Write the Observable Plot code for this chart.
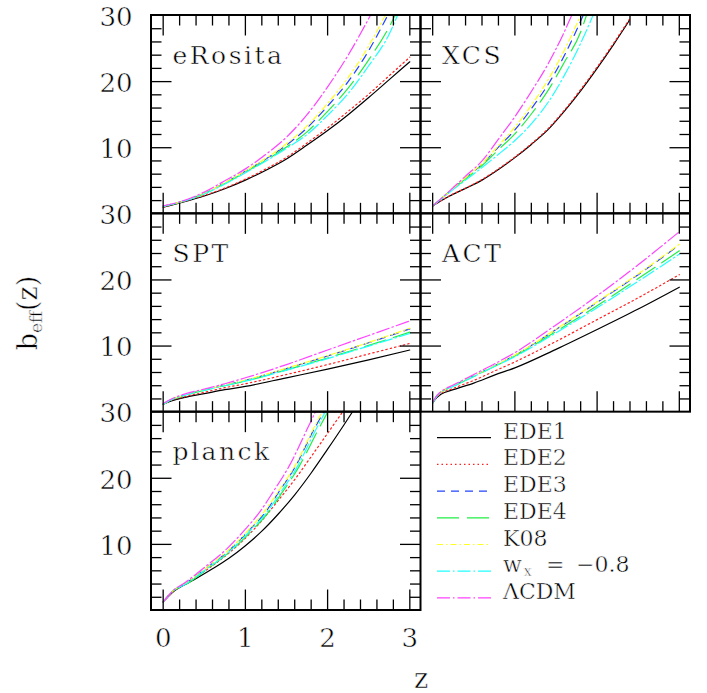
<!DOCTYPE html>
<html><head><meta charset="utf-8">
<script src="https://cdn.jsdelivr.net/npm/d3@7"></script>
<script src="https://cdn.jsdelivr.net/npm/@observablehq/plot@0.6"></script>
<style>
body{margin:0;background:#fff}
#chart{position:relative;width:707px;height:693px}
svg{display:block}
svg text{stroke:#fff;stroke-width:0.5px}
g[aria-description="panel-label"] text{letter-spacing:2.5px}
</style>
</head><body><div id="chart"></div>
<script>
// ---- series and panels ----
const series = ["EDE1","EDE2","EDE3","EDE4","K08","wx","LCDM"];
const seriesColors = ["#000000","#ff2020","#2244ff","#22ee44","#ffff22","#22ffff","#ff44ff"];
const seriesDash = [null,"1.5,3","8,6","22,8","6,3,1.5,3","13,3,1.5,3","13,3,1.5,3"];
const panelNames = ["eRosita","XCS","SPT","ACT","planck"];
const panelCol = [0,1,0,1,0];
const panelRow = [0,0,1,1,2];

// ---- tick values and labels ----
const xTicks = [0,0.2,0.4,0.6,0.8,1,1.2,1.4,1.6,1.8,2,2.2,2.4,2.6,2.8,3];
const xMajor = [0,1,2,3];
const yTicks = [2,4,6,8,10,12,14,16,18,20,22,24,26,28];
const yMajor = [10,20];
const xTickLabels = [0,1,2,3];
const yTickLabels = [10,20,30];

// ---- b_eff(z): [z, b] ----
const eRosita = {
  EDE1: [[0,1.0],[0.25,1.8],[0.5,2.7],[0.75,3.8],[1,5.1],[1.25,6.6],[1.5,8.3],[1.75,10.4],[2,12.6],[2.25,15.0],[2.5,17.6],[2.75,20.3],[3,23.0]],
  EDE2: [[0,1.0],[0.25,1.85],[0.5,2.8],[0.75,3.9],[1,5.25],[1.25,6.8],[1.5,8.55],[1.75,10.7],[2,13.0],[2.25,15.5],[2.5,18.1],[2.75,20.9],[3,23.7]],
  EDE3: [[0,1.15],[0.25,1.95],[0.5,3.1],[0.75,4.7],[1,6.45],[1.25,8.3],[1.5,10.4],[1.75,13.0],[2,16.3],[2.25,20.0],[2.5,24.7],[2.73,30]],
  EDE4: [[0,1.1],[0.25,1.9],[0.5,3.05],[0.75,4.6],[1,6.3],[1.25,8.1],[1.5,10.1],[1.75,12.4],[2,15.5],[2.25,19.0],[2.5,23.3],[2.75,28.3],[2.82,30]],
  K08:  [[0,1.15],[0.25,1.95],[0.5,3.1],[0.75,4.7],[1,6.5],[1.25,8.4],[1.5,10.6],[1.75,13.3],[2,16.7],[2.25,20.6],[2.5,25.4],[2.7,30]],
  wx:   [[0,1.1],[0.25,1.9],[0.5,3.0],[0.75,4.5],[1,6.2],[1.25,8.0],[1.5,9.9],[1.75,12.0],[2,14.9],[2.25,18.2],[2.5,22.4],[2.75,27.2],[2.85,30]],
  LCDM: [[0,1.2],[0.25,2.0],[0.5,3.3],[0.75,5.0],[1,6.8],[1.25,9.0],[1.5,11.6],[1.75,15.0],[2,19.2],[2.25,24.0],[2.52,30]]
};
const XCS = {
  EDE1: [[0,1.2],[0.2,2.65],[0.4,3.85],[0.6,5.1],[0.8,6.7],[1,8.5],[1.2,10.5],[1.4,12.7],[1.6,15.5],[1.8,18.6],[2,22.0],[2.2,25.6],[2.39,29.2]],
  EDE2: [[0,1.2],[0.2,2.7],[0.4,3.9],[0.6,5.2],[0.8,6.8],[1,8.6],[1.2,10.6],[1.4,12.85],[1.6,15.65],[1.8,18.8],[2,22.2],[2.2,25.8],[2.39,29.4]],
  EDE3: [[0,1.2],[0.2,3.3],[0.4,5.4],[0.6,7.5],[0.8,10.1],[1,12.7],[1.2,15.9],[1.4,19.5],[1.6,23.9],[1.83,30]],
  EDE4: [[0,1.2],[0.2,3.3],[0.4,5.3],[0.6,7.3],[0.8,9.7],[1,12.1],[1.2,15.1],[1.4,18.6],[1.6,22.9],[1.8,27.5],[1.87,30]],
  K08:  [[0,1.2],[0.2,3.3],[0.4,5.45],[0.6,7.6],[0.8,10.3],[1,13.1],[1.2,16.4],[1.4,20.2],[1.6,24.7],[1.8,30]],
  wx:   [[0,1.2],[0.2,3.2],[0.4,5.1],[0.6,7.0],[0.8,9.0],[1,11.1],[1.2,13.6],[1.4,16.8],[1.6,20.9],[1.8,25.8],[1.95,30]],
  LCDM: [[0,1.2],[0.2,3.4],[0.4,5.7],[0.6,8.0],[0.8,11.3],[1,14.7],[1.2,18.5],[1.4,22.6],[1.6,27.5],[1.69,30]]
};
const SPT = {
  EDE1: [[0,1.2],[0.1,1.7],[0.25,2.2],[0.5,2.8],[0.75,3.4],[1,3.9],[1.5,5.2],[2,6.5],[2.5,7.9],[3,9.4]],
  EDE2: [[0,1.2],[0.1,1.8],[0.25,2.3],[0.5,3.0],[0.75,3.7],[1,4.3],[1.5,5.7],[2,7.2],[2.5,8.8],[3,10.4]],
  EDE3: [[0,1.2],[0.1,1.9],[0.25,2.5],[0.5,3.35],[0.75,4.1],[1,4.8],[1.5,6.6],[2,8.5],[2.5,10.5],[3,12.6]],
  EDE4: [[0,1.2],[0.1,1.9],[0.25,2.5],[0.5,3.3],[0.75,4.0],[1,4.7],[1.5,6.4],[2,8.2],[2.5,10.1],[3,12.1]],
  K08:  [[0,1.2],[0.1,1.9],[0.25,2.5],[0.5,3.35],[0.75,4.1],[1,4.85],[1.5,6.65],[2,8.55],[2.5,10.55],[3,12.7]],
  wx:   [[0,1.2],[0.1,1.9],[0.25,2.5],[0.5,3.3],[0.75,4.0],[1,4.7],[1.5,6.35],[2,8.1],[2.5,10.0],[3,11.9]],
  LCDM: [[0,1.3],[0.1,2.0],[0.25,2.7],[0.5,3.5],[0.75,4.3],[1,5.2],[1.5,7.2],[2,9.4],[2.5,11.6],[3,13.8]]
};
const ACT = {
  EDE1: [[0,1.4],[0.05,2.2],[0.1,2.7],[0.25,3.4],[0.5,4.4],[0.75,5.6],[1,6.7],[1.5,9.5],[2,12.5],[2.5,15.6],[3,18.9]],
  EDE2: [[0,1.4],[0.05,2.3],[0.1,2.8],[0.25,3.6],[0.5,4.8],[0.75,6.2],[1,7.6],[1.5,10.7],[2,14.0],[2.5,17.3],[3,20.8]],
  EDE3: [[0,1.5],[0.05,2.4],[0.1,3.0],[0.25,4.0],[0.5,5.5],[0.75,7.0],[1,8.6],[1.5,12.5],[2,16.6],[2.5,20.8],[3,25.3]],
  EDE4: [[0,1.4],[0.05,2.4],[0.1,3.0],[0.25,3.9],[0.5,5.4],[0.75,6.9],[1,8.5],[1.5,12.2],[2,16.1],[2.5,20.2],[3,24.4]],
  K08:  [[0,1.5],[0.05,2.4],[0.1,3.0],[0.25,4.0],[0.5,5.5],[0.75,7.0],[1,8.65],[1.5,12.55],[2,16.7],[2.5,20.9],[3,25.4]],
  wx:   [[0,1.4],[0.05,2.4],[0.1,3.0],[0.25,3.9],[0.5,5.4],[0.75,6.9],[1,8.4],[1.5,12.0],[2,15.8],[2.5,19.8],[3,23.9]],
  LCDM: [[0,1.5],[0.05,2.5],[0.1,3.1],[0.25,4.1],[0.5,5.7],[0.75,7.3],[1,9.0],[1.5,13.2],[2,17.6],[2.5,22.3],[3,27.3]]
};
const planck = {
  EDE1: [[0,1.3],[0.13,2.9],[0.37,4.6],[0.6,6.3],[0.8,7.9],[1,9.8],[1.2,12.0],[1.4,14.6],[1.6,17.5],[1.8,20.8],[2,24.4],[2.2,28.1],[2.3,30]],
  EDE2: [[0,1.3],[0.13,2.95],[0.37,4.9],[0.58,6.6],[0.8,8.7],[0.98,10.7],[1.2,13.6],[1.39,16.5],[1.6,19.8],[1.79,23.1],[2,26.8],[2.18,30]],
  EDE3: [[0,1.3],[0.12,3.0],[0.26,4.0],[0.51,6.3],[0.82,9.3],[1.05,12.2],[1.24,14.8],[1.41,18.0],[1.6,21.6],[1.83,27.3],[1.95,30]],
  EDE4: [[0,1.3],[0.12,2.95],[0.27,3.9],[0.53,6.2],[0.84,9.2],[1.08,12.1],[1.27,14.7],[1.45,17.9],[1.64,21.5],[1.88,27.2],[2.0,30]],
  K08:  [[0,1.3],[0.12,3.0],[0.26,4.0],[0.51,6.3],[0.81,9.3],[1.04,12.2],[1.22,14.8],[1.4,18.0],[1.59,21.6],[1.82,27.3],[1.93,30]],
  wx:   [[0,1.3],[0.12,2.95],[0.26,3.9],[0.52,6.2],[0.83,9.2],[1.06,12.1],[1.25,14.7],[1.43,17.9],[1.62,21.5],[1.85,27.2],[1.97,30]],
  LCDM: [[0,1.3],[0.12,3.0],[0.25,4.1],[0.49,6.4],[0.78,9.4],[1.0,12.3],[1.18,15.0],[1.35,18.2],[1.53,21.8],[1.75,27.4],[1.85,30]]
};
const panelData = {eRosita, XCS, SPT, ACT, planck};

// ---- build tables ----
const panels = panelNames.map((p, i) => ({panel: p, col: panelCol[i], row: panelRow[i]}));
const rows = panels.flatMap(p => series.flatMap(s =>
  panelData[p.panel][s].map(([z, b]) => ({...p, series: s, z, b}))));

// layout
const W = 707, H = 693;
const mL = 151, mR = 17, mT = 15, mB = 83;
const X0 = -0.142, X1 = 3.136, Y0 = 0, Y1 = 30;
const facetW = (W - mL - mR) / 2, facetH = (H - mT - mB) / 3;
const pxX = facetW / (X1 - X0), pxY = facetH / (Y1 - Y0);
const minorLen = 10.5, majorLen = 20.5;
const font = "DejaVu Serif";

const xt = panels.flatMap(p => xTicks.map(z => ({...p, z, len: (xMajor.includes(z) ? majorLen : minorLen)})));
const yt = panels.flatMap(p => yTicks.map(v => ({...p, v, len: (yMajor.includes(v) ? majorLen : minorLen)})));
const yLab = panels.filter(p => p.col === 0).flatMap(p => yTickLabels.map(v => ({...p, v})));
const xLab = panels.filter(p => p.panel === "planck").flatMap(p => xTickLabels.map(z => ({...p, z})));

const marks = [];
series.forEach((s, i) => {
  const opts = {fx: "col", fy: "row", x: "z", y: "b", z: "panel",
    stroke: seriesColors[i], strokeWidth: 1.2, curve: "monotone-x", clip: true};
  if (seriesDash[i]) opts.strokeDasharray = seriesDash[i];
  marks.push(Plot.line(rows.filter(d => d.series === s), opts));
});
const tickStyle = {stroke: "black", strokeWidth: 1.3};
marks.push(
  Plot.ruleX(xt, {fx: "col", fy: "row", x: "z", y1: () => Y0, y2: d => Y0 + d.len / pxY, ...tickStyle}),
  Plot.ruleX(xt, {fx: "col", fy: "row", x: "z", y1: d => Y1 - d.len / pxY, y2: () => Y1, ...tickStyle}),
  Plot.ruleY(yt, {fx: "col", fy: "row", y: "v", x1: () => X0, x2: d => X0 + d.len / pxX, ...tickStyle}),
  Plot.ruleY(yt, {fx: "col", fy: "row", y: "v", x1: d => X1 - d.len / pxX, x2: () => X1, ...tickStyle}),
  Plot.rect(panels, {fx: "col", fy: "row", x1: () => X0, x2: () => X1, y1: () => Y0, y2: () => Y1,
    fill: "none", stroke: "black", strokeWidth: 2}),
  Plot.text(panels, {fx: "col", fy: "row", x: () => X0, y: () => Y1, text: "panel", dx: 21, dy: 48,
    textAnchor: "start", lineAnchor: "bottom", fontSize: 25, fontFamily: font, fill: "black",
    ariaDescription: "panel-label"}),
  Plot.text(yLab, {fx: "col", fy: "row", x: () => X0, y: "v", text: d => String(d.v), dx: -19, dy: 2,
    textAnchor: "end", lineAnchor: "middle", fontSize: 26, fontFamily: font, fill: "black"}),
  Plot.text(xLab, {fx: "col", fy: "row", x: "z", y: () => Y0, text: d => String(d.z), dy: 28,
    textAnchor: "middle", lineAnchor: "middle", fontSize: 26, fontFamily: font, fill: "black"})
);

const svgNode = Plot.plot({
  width: W, height: H,
  marginLeft: mL, marginRight: mR, marginTop: mT, marginBottom: mB,
  style: {fontFamily: font, background: "white", overflow: "visible"},
  x: {domain: [X0, X1], axis: null},
  y: {domain: [Y0, Y1], axis: null},
  fx: {domain: [0, 1], axis: null, padding: 0, round: false},
  fy: {domain: [0, 1, 2], axis: null, padding: 0, round: false},
  marks
});
const chart = document.getElementById("chart");
chart.appendChild(svgNode);

// ---- axis titles and legend ----
const svg = d3.select(svgNode);
svg.append("text").attr("x", 421).attr("y", 688).attr("text-anchor", "middle")
  .attr("font-family", font).attr("font-size", 27).attr("fill", "black").text("z");
const ylg = svg.append("g").attr("transform", "translate(37,313) rotate(-90)");
const yl = ylg.append("text").attr("x", 0).attr("y", 0)
  .attr("text-anchor", "middle").attr("font-family", font).attr("font-size", 27).attr("fill", "black");
yl.append("tspan").text("b");
yl.append("tspan").attr("font-size", 17).attr("dy", 5).text("eff");
yl.append("tspan").attr("dy", -5).text("(z)");

const legendLabels = ["EDE1","EDE2","EDE3","EDE4","K08","wx","ΛCDM"];
const lg = svg.append("g").attr("text-anchor", "start");
const lx0 = 437, lx1 = 491, ltx = 503, ly0 = 437.7, ldy = 26.7;
legendLabels.forEach((lab, i) => {
  const y = ly0 + i * ldy;
  const ln = lg.append("line").attr("x1", lx0).attr("x2", lx1).attr("y1", y).attr("y2", y)
    .attr("stroke", seriesColors[i]).attr("stroke-width", 1.2);
  if (seriesDash[i]) ln.attr("stroke-dasharray", seriesDash[i]);
  const t = lg.append("text").attr("x", ltx).attr("y", y + 1).attr("text-anchor", "start")
    .attr("font-family", font).attr("font-size", 22).attr("fill", "black");
  if (lab === "wx") {
    t.append("tspan").text("w");
    t.append("tspan").attr("font-size", 14).attr("dx", 2).attr("dy", 4).text("x");
    t.append("tspan").attr("x", 546).attr("dy", -4).text("=");
    t.append("tspan").attr("x", 576).text("−0.8");
  } else {
    t.text(lab);
  }
});
</script></body></html>
